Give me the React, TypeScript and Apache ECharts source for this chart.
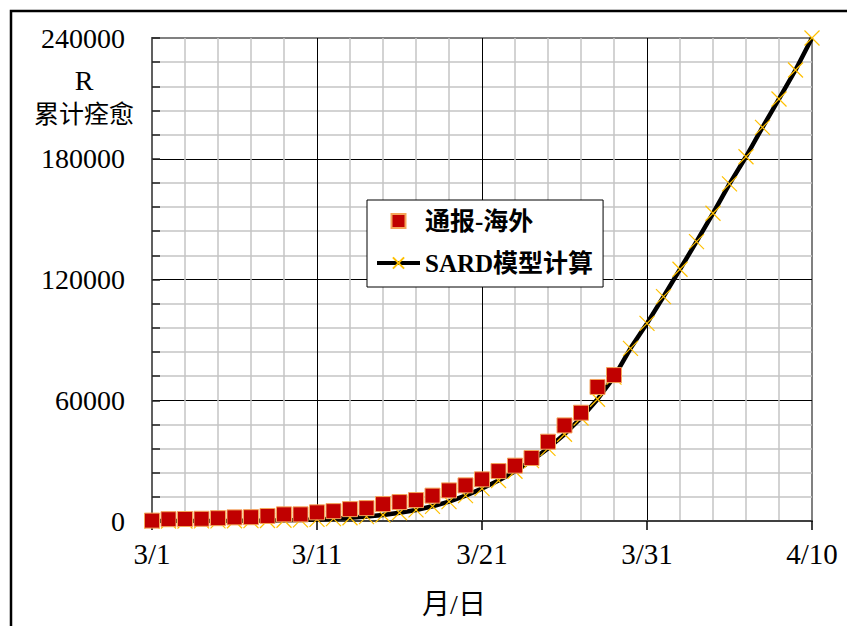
import React, { useEffect, useRef } from "react";
import * as echarts from "echarts";

const xTickLabels = ["3/1", "3/11", "3/21", "3/31", "4/10"];
const yTickValues = [0, 60000, 120000, 180000, 240000];

// reported (通报-海外), one value per day from 3/1 to 3/29
const reported = [
  200, 900, 1000, 1100, 1400, 1800, 1900, 2500, 3300, 3300, 4300, 4900, 5900,
  6400, 8400, 9400, 10400, 12600, 15200, 17700, 20700, 24800, 27500, 31300,
  39400, 47500, 53800, 66600, 72500,
];

// SARD model, one value per day from 3/1 to 4/10
const model = [
  0, 10, 20, 35, 60, 100, 160, 250, 380, 550, 800, 1150, 1600, 2200, 3000,
  4100, 5500, 7300, 9600, 12600, 16100, 20100, 24700, 30000, 36100, 43100,
  51200, 60500, 71500, 85800, 98200, 111500, 125100, 138800, 152900, 167500,
  181000, 195600, 209700, 224100, 240000,
];

const seriesNames = ["通报-海外", "SARD模型计算"];

export default function App() {
  const ref = useRef<HTMLDivElement>(null);
  useEffect(() => {
    if (!ref.current) return;
    const chart = echarts.init(ref.current, undefined, { renderer: "svg" });
    const serif = "'Liberation Serif', 'Times New Roman', 'Noto Sans CJK SC', serif";
    chart.setOption({
      animation: false,
      backgroundColor: "#fff",
      grid: {
        left: 152,
        right: 35,
        top: 38,
        bottom: 105,
        show: true,
        borderColor: "#808080",
        borderWidth: 2,
        backgroundColor: "transparent",
      },
      legend: {
        orient: "vertical",
        left: 367,
        top: 200,
        data: [
          { name: seriesNames[0], icon: "path://M0,0L10,0L10,10L0,10Z" },
          { name: seriesNames[1] },
        ],
        symbolKeepAspect: true,
        itemWidth: 43,
        itemHeight: 14,
        itemGap: 12,
        padding: [6, 10, 9, 8],
        backgroundColor: "#fff",
        borderColor: "#000",
        borderWidth: 1,
        borderRadius: 0,
        lineStyle: { width: 4, color: "#000" },
        textStyle: {
          fontFamily: serif,
          fontWeight: "bold",
          fontSize: 25,
          lineHeight: 30,
          color: "#000",
        },
      },
      xAxis: {
        type: "value",
        min: 0,
        max: 40,
        interval: 10,
        axisLine: { show: true, lineStyle: { color: "#404040", width: 2 } },
        axisTick: { show: true, inside: false, length: 9, lineStyle: { color: "#000", width: 1.5 } },
        minorTick: { show: false, splitNumber: 5 },
        axisLabel: {
          margin: 18,
          fontFamily: serif,
          fontSize: 29,
          color: "#000",
          formatter: (v: number) => xTickLabels[Math.round(v / 10)] ?? "",
        },
        splitLine: { show: true, showMinLine: false, showMaxLine: false, lineStyle: { color: "#000", width: 1 } },
        minorSplitLine: { show: true, lineStyle: { color: "#C4C4C4", width: 1.5 } },
      },
      yAxis: {
        type: "value",
        min: 0,
        max: 240000,
        interval: 60000,
        axisLine: { show: true, lineStyle: { color: "#606060", width: 2 } },
        axisTick: { show: true, inside: true, length: 8, lineStyle: { color: "#202020", width: 1.5 } },
        minorTick: { show: true, splitNumber: 5, length: 8, lineStyle: { color: "#202020", width: 1.5 } },
        axisLabel: {
          margin: 27,
          fontFamily: serif,
          fontSize: 28,
          color: "#000",
          formatter: (v: number) => (yTickValues.includes(v) ? String(v) : ""),
        },
        splitLine: { show: true, showMinLine: false, showMaxLine: false, lineStyle: { color: "#000", width: 1 } },
        minorSplitLine: { show: true, lineStyle: { color: "#C4C4C4", width: 1.5 } },
      },
      series: [
        {
          name: seriesNames[1],
          type: "line",
          data: model.map((v, i) => [i, v]),
          symbol: "path://M0,0L10,10M10,0L0,10",
          symbolSize: 15,
          showAllSymbol: true,
          lineStyle: { color: "#000", width: 4.5 },
          itemStyle: { color: "rgba(0,0,0,0)", borderColor: "#FFC000", borderWidth: 1.2 },
          z: 2,
        },
        {
          name: seriesNames[0],
          type: "scatter",
          data: reported.map((v, i) => [i, v]),
          symbol: "rect",
          symbolSize: 15,
          itemStyle: { color: "#C00000", borderColor: "#F5A55A", borderWidth: 1, opacity: 1 },
          z: 3,
        },
      ],
      graphic: [
        {
          type: "rect",
          shape: { x: 11, y: 11, width: 900, height: 700 },
          style: { fill: "none", stroke: "#000", lineWidth: 2.5 },
          silent: true,
        },
        {
          type: "text",
          x: 84,
          y: 80,
          style: { text: "R", fontFamily: serif, fontSize: 28, fill: "#000", align: "center", verticalAlign: "middle" },
        },
        {
          type: "text",
          x: 84,
          y: 114,
          style: { text: "累计痊愈", fontFamily: serif, fontSize: 25, fill: "#000", align: "center", verticalAlign: "middle" },
        },
        {
          type: "text",
          x: 454,
          y: 604,
          style: { text: "月/日", fontFamily: serif, fontSize: 28, fill: "#000", align: "center", verticalAlign: "middle" },
        },
      ],
    });
    return () => chart.dispose();
  }, []);
  return (
    <div
      ref={ref}
      style={{ position: "absolute", left: 0, top: 0, width: 847, height: 626 }}
    />
  );
}
